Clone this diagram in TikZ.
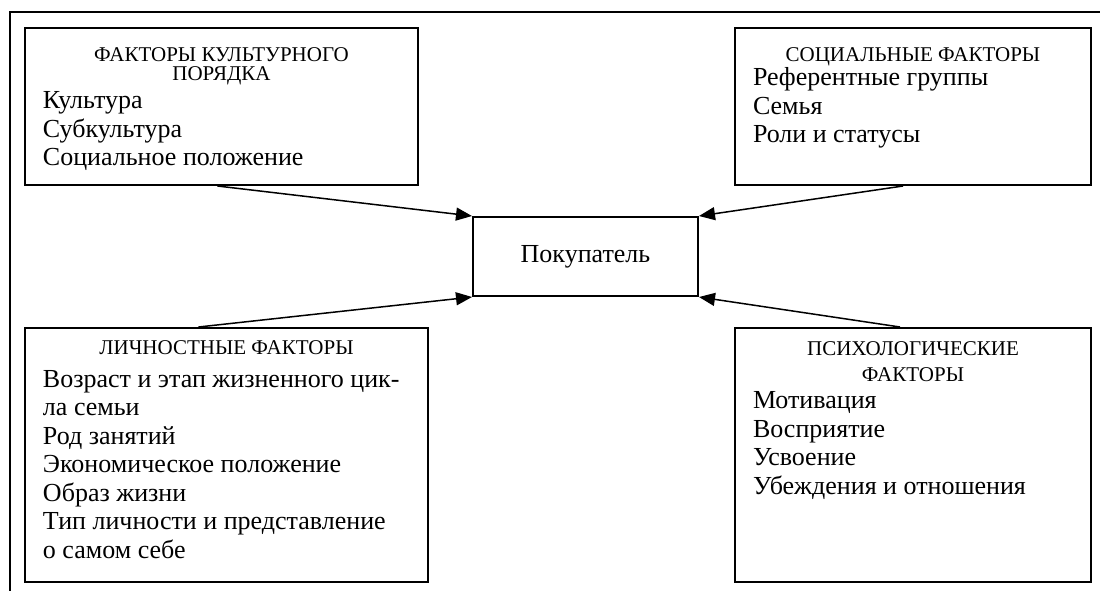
\documentclass[tikz,border=0pt]{standalone}
\usepackage{fontspec}
\setmainfont{Liberation Serif}
\usetikzlibrary{arrows.meta,positioning}

\newcommand{\headfont}{\fontsize{10.5}{9.8}\selectfont}
\newcommand{\itemfont}{\fontsize{13}{14.25}\selectfont}
% width, height, gap on top, gap below heading, heading, list
\newcommand{\factortext}[6]{\parbox[c][#2][t]{#1}{\vspace*{#3}%
  {\headfont\centering #5\par}\vspace{#4}%
  {\itemfont\raggedright\leftskip=9pt #6\par}}}

\begin{document}
\begin{tikzpicture}[x=0.5pt,y=-0.5pt,
    factor/.style={draw, line width=1pt, inner sep=0pt},
    buyer/.style={draw, line width=1pt, inner sep=0pt, minimum width=112.5pt,
                  minimum height=39.5pt, font=\fontsize{13}{14}\selectfont},
    feed/.style={-{Triangle[length=8pt,width=6.5pt]}, line width=0.75pt}]

    \useasboundingbox (0,0) rectangle (1100,591);

    % page frame
    \draw[line width=1pt] (1100,12) -- (9.5,12) -- (9.5,591);

    \node[buyer] (buy) at (585.5,256.5) {Покупатель};

    \node[factor] (cult) at (221.5,106.5) {\factortext{196.5pt}{78.5pt}{9.6pt}{-0.3pt}
        {ФАКТОРЫ КУЛЬТУРНОГО\\ ПОРЯДКА}
        {Культура\\ Субкультура\\ Социальное положение}};
    \node[factor] (soc) at (913,106.5) {\factortext{178pt}{78.5pt}{9.8pt}{-2.2pt}
        {СОЦИАЛЬНЫЕ ФАКТОРЫ}
        {Референтные группы\\ Семья\\ Роли и статусы}};
    \node[factor] (pers) at (226.5,455) {\factortext{201.5pt}{127pt}{6.5pt}{2pt}
        {ЛИЧНОСТНЫЕ ФАКТОРЫ}
        {Возраст и этап жизненного цик-\\ла семьи\\ Род занятий\\
         Экономическое положение\\ Образ жизни\\
         Тип личности и представление\\ о самом себе}};
    \node[factor] (psych) at (913,455) {\factortext{178pt}{127pt}{6.8pt}{-0.8pt}
        {ПСИХОЛОГИЧЕСКИЕ\\[3.3pt] ФАКТОРЫ}
        {Мотивация\\ Восприятие\\ Усвоение\\ Убеждения и отношения}};

    \draw[feed] ([xshift=-2pt]cult.south) -- (buy.north west);
    \draw[feed] ([xshift=-5pt]soc.south) -- (buy.north east);
    \draw[feed] ([xshift=-14pt]pers.north) -- (buy.south west);
    \draw[feed] ([xshift=-6.5pt]psych.north) -- (buy.south east);

\end{tikzpicture}
\end{document}
